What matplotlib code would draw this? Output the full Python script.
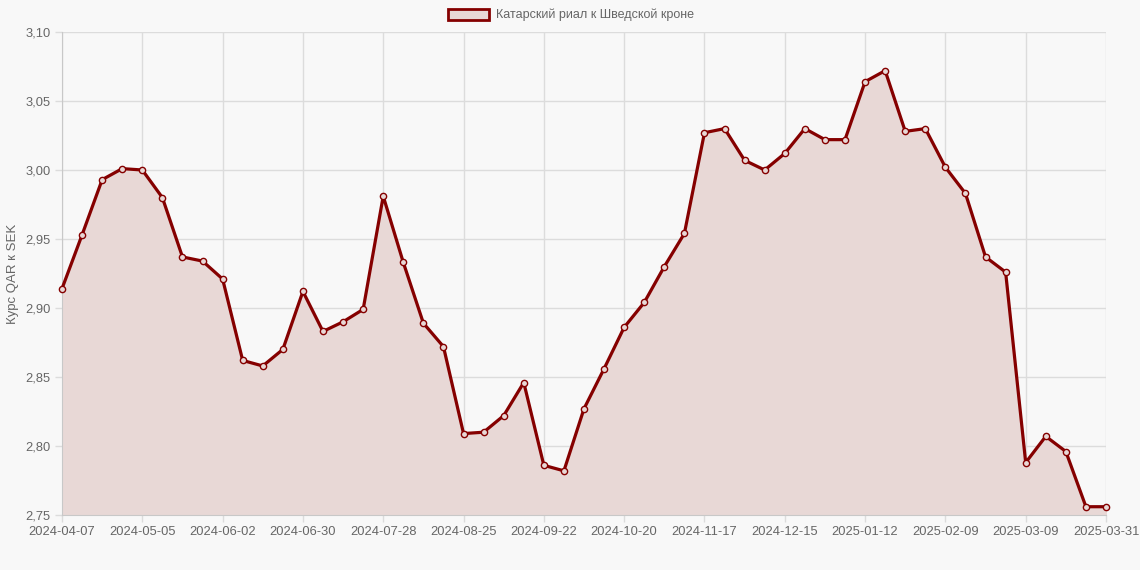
import matplotlib
matplotlib.use("Agg")
from matplotlib import pyplot as plt
from matplotlib.patches import Patch
import numpy as np

plt.rcParams['font.family'] = ['Liberation Sans', 'DejaVu Sans']

# даты (еженедельно) и курс QAR к SEK
dates = ['2024-04-07', '2024-04-14', '2024-04-21', '2024-04-28', '2024-05-05', '2024-05-12',
         '2024-05-19', '2024-05-26', '2024-06-02', '2024-06-09', '2024-06-16', '2024-06-23',
         '2024-06-30', '2024-07-07', '2024-07-14', '2024-07-21', '2024-07-28', '2024-08-04',
         '2024-08-11', '2024-08-18', '2024-08-25', '2024-09-01', '2024-09-08', '2024-09-15',
         '2024-09-22', '2024-09-29', '2024-10-06', '2024-10-13', '2024-10-20', '2024-10-27',
         '2024-11-03', '2024-11-10', '2024-11-17', '2024-11-24', '2024-12-01', '2024-12-08',
         '2024-12-15', '2024-12-22', '2024-12-29', '2025-01-05', '2025-01-12', '2025-01-19',
         '2025-01-26', '2025-02-02', '2025-02-09', '2025-02-16', '2025-02-23', '2025-03-02',
         '2025-03-09', '2025-03-16', '2025-03-23', '2025-03-30', '2025-03-31']
rates = [2.914, 2.953, 2.993, 3.001, 3.000, 2.980, 2.937, 2.934, 2.921, 2.862,
         2.858, 2.870, 2.912, 2.883, 2.890, 2.899, 2.981, 2.933, 2.889, 2.872,
         2.809, 2.810, 2.822, 2.846, 2.786, 2.782, 2.827, 2.856, 2.886, 2.904,
         2.930, 2.954, 3.027, 3.030, 3.007, 3.000, 3.012, 3.030, 3.022, 3.022,
         3.064, 3.072, 3.028, 3.030, 3.002, 2.983, 2.937, 2.926, 2.788, 2.807,
         2.796, 2.756, 2.756]
y_ticks = [2.75, 2.80, 2.85, 2.90, 2.95, 3.00, 3.05, 3.10]
label = 'Катарский риал к Шведской кроне'

line_c = '#850000'
fill_c = '#e8d8d6'
bg = '#f8f8f8'
grid_c = '#dcdcdc'
text_c = '#666666'

x = np.arange(len(dates))
shown = list(range(0, len(dates), 4))
if shown[-1] != len(dates) - 1:
    shown.append(len(dates) - 1)

fig = plt.figure(figsize=(11.4, 5.7), dpi=100, facecolor=bg)
ax = fig.add_axes([62/1140, 1 - 515/570, (1106-62)/1140, (515-32)/570])
ax.set_facecolor(bg)

ax.fill_between(x, rates, 2.75, color=fill_c, zorder=1)
ax.plot(x, rates, color=line_c, lw=2.3, zorder=3, clip_on=False,
        marker='o', ms=4.5, mfc=fill_c, mec=line_c, mew=1)

ax.set_xlim(0, len(dates) - 1)
ax.set_ylim(2.75, 3.10)
ax.set_xticks(shown)
ax.set_xticklabels([dates[i] for i in shown])
ax.set_yticks(y_ticks)
ax.set_yticklabels([f'{v:.2f}'.replace('.', ',') for v in y_ticks])

ax.grid(True, color=grid_c, lw=1, zorder=0)
ax.set_axisbelow(True)
for s in ['top', 'right']:
    ax.spines[s].set_visible(False)
ax.spines['left'].set_color('#c8c8c8')
ax.spines['bottom'].set_color('#c8c8c8')
ax.tick_params(colors=text_c, labelsize=9.3, length=5, width=1, color=grid_c, pad=3)
ax.set_ylabel('Курс QAR к SEK', color=text_c, fontsize=9.5, labelpad=5)

handle = Patch(facecolor=fill_c, edgecolor=line_c, linewidth=2)
fig.legend([handle], [label], loc='center', bbox_to_anchor=(571/1140, 1 - 15/570),
           frameon=False, fontsize=9, labelcolor=text_c,
           handlelength=3.3, handleheight=1.0, handletextpad=0.6)

fig.savefig('out.png', dpi=100, facecolor=bg)
